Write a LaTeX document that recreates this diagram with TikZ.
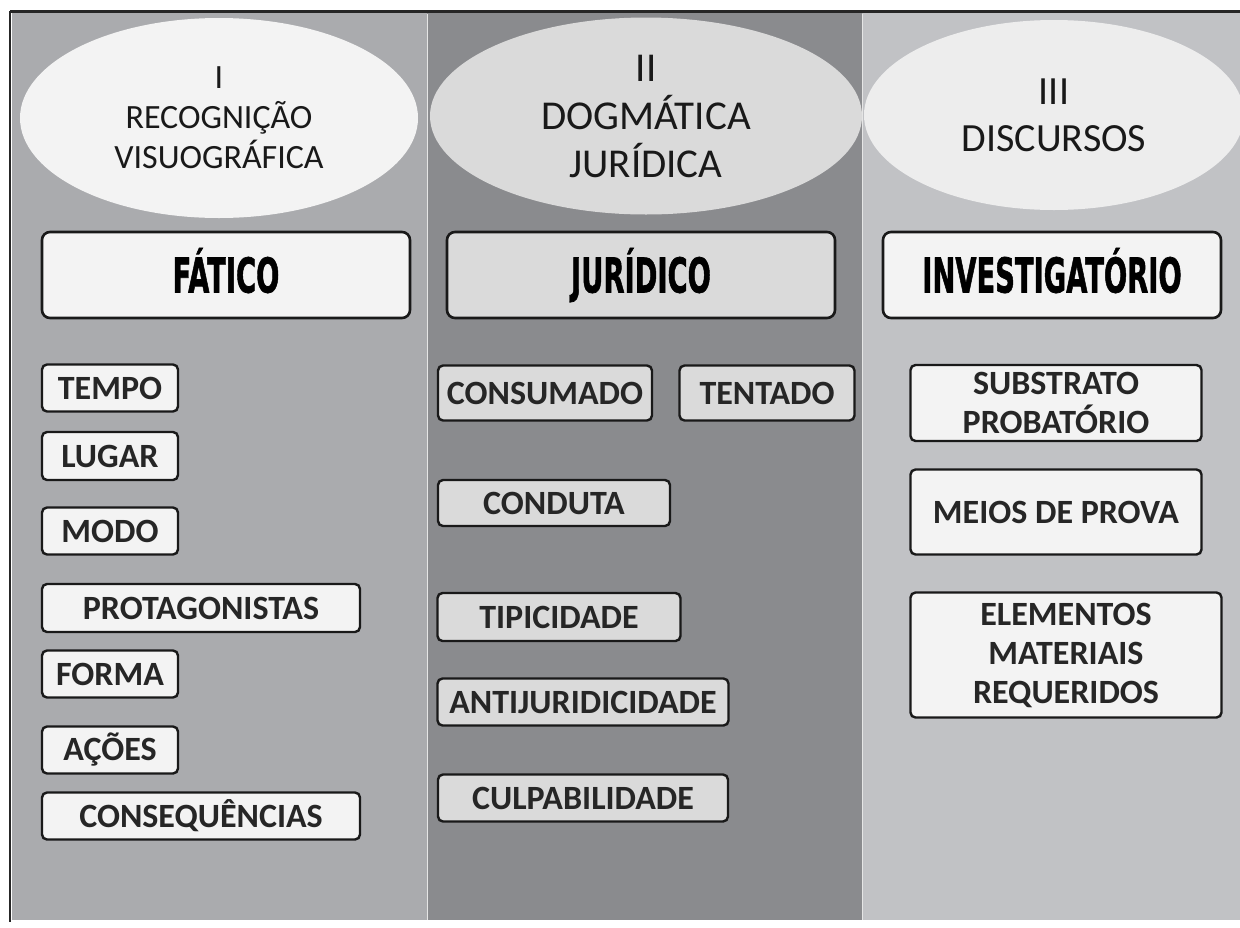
\documentclass[tikz,border=0pt]{standalone}
\usepackage{fontspec}
\setmainfont{Carlito}
\newfontfamily\headfont{DejaVu Sans}[BoldFeatures={FakeBold=1.6}]
\usetikzlibrary{shapes.geometric}

\definecolor{colone}{HTML}{AAABAE}
\definecolor{coltwo}{HTML}{8A8B8E}
\definecolor{colthree}{HTML}{C1C2C5}
\definecolor{paleface}{HTML}{F3F3F3}
\definecolor{greyface}{HTML}{DADADA}

\begin{document}
\begin{tikzpicture}[x=1pt,y=-1pt,
  oval/.style={ellipse,inner sep=0pt,align=center,text=black!90},
  headbox/.style={draw=black!90,line width=2.6pt,rounded corners=8pt,inner sep=0pt,
    minimum height=86pt,text height=35pt,text depth=0pt,
    font=\headfont\bfseries\fontsize{48}{52}\selectfont},
  itembox/.style={draw=black!90,line width=2.4pt,rounded corners=5pt,inner sep=0pt,
    align=center,text=black!85,font=\bfseries\fontsize{34}{39}\selectfont}]

\useasboundingbox[fill=white] (0,0) rectangle (1240,927);

% columns
\fill[colone] (12,12) rectangle (427,920);
\fill[coltwo] (427,12) rectangle (862,920);
\fill[colthree] (862,12) rectangle (1240,920);
\draw[white!80!gray,line width=1pt] (427,14) -- (427,920) (862,14) -- (862,920);
\draw[black!85,line width=3pt] (10,11) -- (1240,11);
\draw[black!85,line width=2pt] (10,11) -- (10,922);

% I
\node[oval,fill=paleface,minimum width=398pt,minimum height=200pt,
  font=\fontsize{34}{40}\selectfont] (ovI) at (219,118) {I\\RECOGNIÇÃO\\VISUOGRÁFICA};
\node[headbox,fill=paleface,minimum width=368pt] (fatico) at (226,275)
  {\scalebox{0.57}[1]{FÁTICO}};
\node[itembox,fill=paleface,minimum width=136pt,minimum height=47pt] (tempo) at (110,388) {TEMPO};
\node[itembox,fill=paleface,minimum width=136pt,minimum height=48pt] (lugar) at (110,456) {LUGAR};
\node[itembox,fill=paleface,minimum width=136pt,minimum height=47pt] (modo) at (110,531) {MODO};
\node[itembox,fill=paleface,minimum width=318pt,minimum height=48pt] (protag) at (201,608) {PROTAGONISTAS};
\node[itembox,fill=paleface,minimum width=136pt,minimum height=47pt] (forma) at (110,674) {FORMA};
\node[itembox,fill=paleface,minimum width=136pt,minimum height=47pt] (acoes) at (110,750) {AÇÕES};
\node[itembox,fill=paleface,minimum width=318pt,minimum height=47pt] (conseq) at (201,816) {CONSEQUÊNCIAS};

% II
\node[oval,fill=greyface,minimum width=432pt,minimum height=197pt,
  font=\fontsize{41}{48}\selectfont] (ovII) at (646,116) {II\\DOGMÁTICA\\JURÍDICA};
\node[headbox,fill=greyface,minimum width=388pt] (juridico) at (641,275)
  {\scalebox{0.57}[1]{JURÍDICO}};
\node[itembox,fill=greyface,minimum width=214pt,minimum height=55pt] (consum) at (545,393) {CONSUMADO};
\node[itembox,fill=greyface,minimum width=175pt,minimum height=55pt] (tentado) at (767,393) {TENTADO};
\node[itembox,fill=greyface,minimum width=232pt,minimum height=46pt] (conduta) at (554,503) {CONDUTA};
\node[itembox,fill=greyface,minimum width=243pt,minimum height=48pt] (tipic) at (559,617) {TIPICIDADE};
\node[itembox,fill=greyface,minimum width=291pt,minimum height=47pt] (antij) at (583,702) {ANTIJURIDICIDADE};
\node[itembox,fill=greyface,minimum width=290pt,minimum height=47pt] (culpa) at (583,798) {CULPABILIDADE};

% III
\node[oval,fill=paleface!95!gray,minimum width=380pt,minimum height=190pt,
  font=\fontsize{40}{47}\selectfont] (ovIII) at (1054,115) {III\\DISCURSOS};
\node[headbox,fill=paleface,minimum width=338pt] (investig) at (1052,275)
  {\scalebox{0.57}[1]{INVESTIGATÓRIO}};
\node[itembox,fill=paleface,minimum width=291pt,minimum height=76pt] (substr) at (1056,403) {SUBSTRATO\\PROBATÓRIO};
\node[itembox,fill=paleface,minimum width=291pt,minimum height=85pt] (meios) at (1056,512) {MEIOS DE PROVA};
\node[itembox,fill=paleface,minimum width=311pt,minimum height=125pt] (elem) at (1066,655) {ELEMENTOS\\MATERIAIS\\REQUERIDOS};

\end{tikzpicture}
\end{document}
